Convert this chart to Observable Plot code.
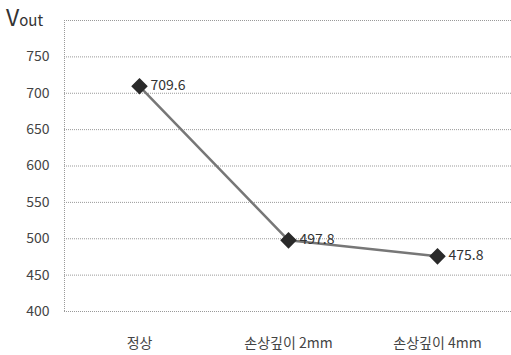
<!DOCTYPE html>
<html><head><meta charset="utf-8">
<script src="https://cdn.jsdelivr.net/npm/d3@7"></script>
<script src="https://cdn.jsdelivr.net/npm/@observablehq/plot@0.6"></script>
<style>
body{margin:0;background:#fff;}
#wrap{position:relative;width:511px;height:355px;}
#ttl{position:absolute;left:6px;top:5px;font-family:"Noto Sans CJK KR","Noto Sans",sans-serif;color:#333;line-height:1;}
#ttl .v{font-size:23px;}
#ttl .o{font-size:15px;}
</style>
</head><body>
<div id="wrap"><div id="ttl"><span class="v">V</span><span class="o">out</span></div></div>
<script>
const categories = ["정상", "손상깊이 2mm", "손상깊이 4mm"];
const values = [709.6, 497.8, 475.8];
const yTicks = [400, 450, 500, 550, 600, 650, 700, 750, 800];
const yTickLabels = ["400", "450", "500", "550", "600", "650", "700", "750", ""];

const data = categories.map((c, i) => ({cat: c, v: values[i]}));

const chart = Plot.plot({
  width: 511,
  height: 355,
  marginLeft: 64,
  marginRight: 0,
  marginTop: 20,
  marginBottom: 44,
  style: {fontFamily: '"Noto Sans CJK KR","Noto Sans",sans-serif', fontSize: "14px", color: "#444", background: "#fff"},
  x: {type: "point", domain: categories, padding: 0.5, label: null, tickSize: 0, tickPadding: 27},
  y: {domain: [400, 800], ticks: yTicks, tickFormat: (d) => yTickLabels[yTicks.indexOf(d)], label: null, tickSize: 0, tickPadding: 15},
  marks: [
    Plot.ruleY(yTicks, {stroke: "#999", strokeDasharray: "1,1", strokeWidth: 1}),
    Plot.line(data, {x: "cat", y: "v", stroke: "#777", strokeWidth: 2.5}),
    Plot.dot(data, {x: "cat", y: "v", symbol: "diamond2", r: 6.5, fill: "#2a2a2a", stroke: "#2a2a2a"}),
    Plot.text(data, {x: "cat", y: "v", text: (d) => d.v.toFixed(1), textAnchor: "start", dx: 11, dy: -1, fill: "#333", fontSize: 14})
  ]
});
// dotted vertical axis line at the left edge of the plot
const svg = d3.select(chart);
svg.append("line").attr("x1", 64.5).attr("x2", 64.5).attr("y1", 20).attr("y2", 311)
  .attr("stroke", "#999").attr("stroke-dasharray", "1,1");
document.getElementById("wrap").prepend(chart);
</script>
</body></html>
